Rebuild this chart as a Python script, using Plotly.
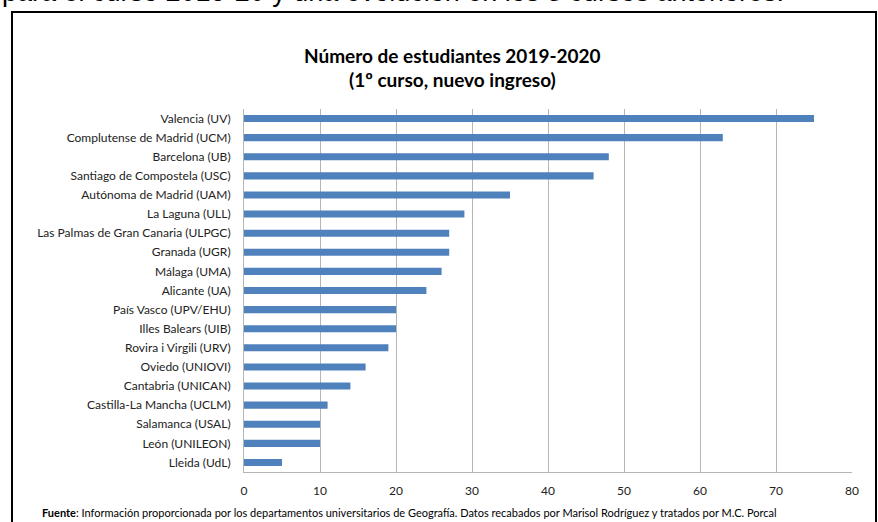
import plotly.graph_objects as go

universidades = [
    "Valencia (UV)", "Complutense de Madrid (UCM)", "Barcelona (UB)",
    "Santiago de Compostela (USC)", "Autónoma de Madrid (UAM)", "La Laguna (ULL)",
    "Las Palmas de Gran Canaria (ULPGC)", "Granada (UGR)", "Málaga (UMA)",
    "Alicante (UA)", "País Vasco (UPV/EHU)", "Illes Balears (UIB)",
    "Rovira i Virgili (URV)", "Oviedo (UNIOVI)", "Cantabria (UNICAN)",
    "Castilla-La Mancha (UCLM)", "Salamanca (USAL)", "León (UNILEON)", "Lleida (UdL)",
]
estudiantes = [75, 63, 48, 46, 35, 29, 27, 27, 26, 24, 20, 20, 19, 16, 14, 11, 10, 10, 5]
x_ticks = [0, 10, 20, 30, 40, 50, 60, 70, 80]

W, H = 878, 522
L, R, T, B = 244, 26, 109, 50
PW = W - L - R
PH = H - T - B


def px(x):
    return (x - L) / PW


def py(y):
    return (H - B - y) / PH


FONT = "Lato"

fig = go.Figure(go.Bar(
    x=estudiantes,
    y=universidades,
    orientation="h",
    marker=dict(color="#4F81BD", line=dict(width=0)),
))

fig.update_layout(
    width=W, height=H,
    margin=dict(l=L, r=R, t=T, b=B),
    paper_bgcolor="white", plot_bgcolor="white",
    bargap=0.63,
    showlegend=False,
    font=dict(family=FONT, color="#222222"),
    xaxis=dict(
        range=[0, 80], tickvals=x_ticks, showgrid=True, gridcolor="#b5b5b5",
        gridwidth=1, zeroline=False, showline=True, linecolor="#b5b5b5",
        linewidth=1, ticks="", tickfont=dict(size=12, family=FONT, color="#222222"),
        ticklabelstandoff=8,
    ),
    yaxis=dict(
        autorange="reversed", showgrid=False, zeroline=False, showline=True,
        linecolor="#b5b5b5", linewidth=1, ticks="",
        tickfont=dict(size=12, family=FONT, color="#222222"),
        ticklabelstandoff=10,
    ),
    shapes=[dict(
        type="rect", xref="paper", yref="paper",
        x0=px(12), x1=px(876), y0=py(535), y1=py(12),
        line=dict(color="black", width=2), fillcolor="rgba(0,0,0,0)",
    )],
    annotations=[
        dict(text="para el curso 2019-20 y una evolución en los 3 cursos anteriores.",
             xref="paper", yref="paper", x=px(0), y=py(-8), xanchor="left",
             yanchor="middle", showarrow=False,
             font=dict(family="Liberation Sans", size=27, color="black")),
        dict(text="<b>Número de estudiantes 2019-2020</b>", xref="paper", yref="paper",
             x=px(452), y=py(55), xanchor="center", yanchor="middle", showarrow=False,
             font=dict(family=FONT, size=19, color="black")),
        dict(text="<b>(1º curso, nuevo ingreso)</b>", xref="paper", yref="paper",
             x=px(452), y=py(79), xanchor="center", yanchor="middle", showarrow=False,
             font=dict(family=FONT, size=19, color="black")),
        dict(text="<b>Fuente</b>: Información proporcionada por los departamentos universitarios de Geografía. Datos recabados por Marisol Rodríguez y tratados por M.C. Porcal",
             xref="paper", yref="paper", x=px(40), y=py(512), xanchor="left",
             yanchor="middle", showarrow=False,
             font=dict(family=FONT, size=11, color="black")),
    ],
)

fig.write_html("out.html", config={"displayModeBar": False},
               post_script="document.body.style.margin='0px';")
